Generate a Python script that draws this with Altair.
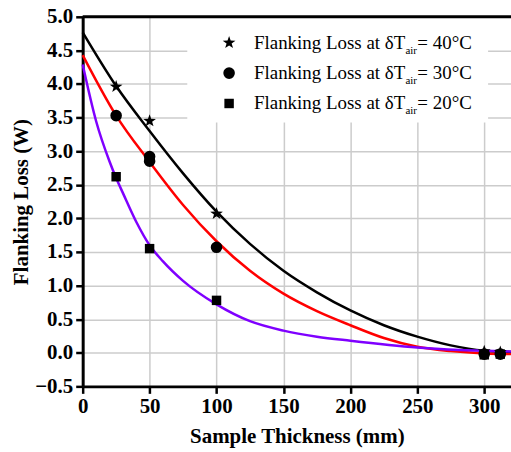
import altair as alt
import pandas as pd

# ---- data ----
series_names = ["40°C", "30°C", "20°C"]
legend_prefix = "Flanking Loss at δT"
legend_sub = "air"

# measured points
pts_40_x = [25, 50, 100, 300, 312]
pts_40_y = [3.96, 3.45, 2.07, 0.02, 0.01]
pts_30_x = [25, 50, 50, 100, 300, 312]
pts_30_y = [3.53, 2.92, 2.85, 1.57, -0.02, -0.02]
pts_20_x = [25, 50, 100, 300, 312]
pts_20_y = [2.62, 1.55, 0.78, -0.03, -0.02]

# fitted curves
fit_40_x = [0, 25, 50, 75, 100, 125, 150, 175, 200, 225, 250, 275, 300, 320]
fit_40_y = [4.77, 3.97, 3.30, 2.67, 2.10, 1.62, 1.22, 0.90, 0.63, 0.41, 0.24, 0.11, 0.03, 0.01]
fit_30_x = [0, 25, 50, 75, 100, 125, 150, 175, 200, 225, 250, 275, 300, 320]
fit_30_y = [4.43, 3.53, 2.84, 2.20, 1.66, 1.22, 0.88, 0.62, 0.41, 0.22, 0.09, 0.025, -0.01, -0.02]
fit_20_x = [0, 10, 20, 25, 30, 40, 50, 60, 75, 100, 125, 150, 175, 200, 250, 300, 320]
fit_20_y = [4.29, 3.45, 2.85, 2.60, 2.38, 1.95, 1.60, 1.36, 1.07, 0.72, 0.47, 0.33, 0.24, 0.18, 0.08, 0.03, 0.02]

x_ticks = [0, 25, 50, 75, 100, 125, 150, 175, 200, 225, 250, 275, 300]
marker_sizes = [180, 90, 90]
y_top = 5.0

pts = pd.DataFrame(
    [(x, y, series_names[0]) for x, y in zip(pts_40_x, pts_40_y)]
    + [(x, y, series_names[1]) for x, y in zip(pts_30_x, pts_30_y)]
    + [(x, y, series_names[2]) for x, y in zip(pts_20_x, pts_20_y)],
    columns=["x", "y", "s"])
fit = pd.DataFrame(
    [(x, y, series_names[0]) for x, y in zip(fit_40_x, fit_40_y)]
    + [(x, y, series_names[1]) for x, y in zip(fit_30_x, fit_30_y)]
    + [(x, y, series_names[2]) for x, y in zip(fit_20_x, fit_20_y)],
    columns=["x", "y", "s"])

STAR = ("M0,-1L0.235,-0.324L0.951,-0.309L0.38,0.124L0.588,0.809L0,0.4"
        "L-0.588,0.809L-0.38,0.124L-0.951,-0.309L-0.235,-0.324Z")

FONT = "'Liberation Serif', 'Times New Roman', serif"
xscale = alt.Scale(domain=[0, 320], nice=False, zero=False)
yscale = alt.Scale(domain=[-0.5, 5.0], nice=False, zero=False)
shape_scale = alt.Scale(domain=series_names, range=[STAR, "circle", "square"])
size_scale = alt.Scale(domain=series_names, range=marker_sizes)

xaxis = alt.Axis(
    values=x_ticks, title="Sample Thickness (mm)",
    labelExpr="datum.value % 50 === 0 ? datum.label : ''",
    tickSize={"condition": {"test": "datum.value % 50 === 0", "value": 7}, "value": 4},
    gridOpacity={"condition": {"test": "datum.value % 50 === 0", "value": 1}, "value": 0},
    labelFont=FONT, labelFontWeight="bold", labelFontSize=21, labelColor="black",
    labelPadding=2, labelOverlap=False,
    titleFont=FONT, titleFontWeight="bold", titleFontSize=21,
    titleColor="black", titleY=50, titleBaseline="middle",
    domainColor="black", domainWidth=3, tickColor="black", tickWidth=2.5,
    gridColor="#cccccc", gridWidth=1.5, labelFlush=False)
yaxis = alt.Axis(
    tickCount=11, tickMinStep=0.5, format=".1f", title="Flanking Loss (W)",
    labelFont=FONT, labelFontWeight="bold", labelFontSize=21, labelColor="black",
    labelPadding=3, labelOverlap=False, labelSeparation=0,
    titleFont=FONT, titleFontWeight="bold", titleFontSize=21,
    titleColor="black", titleX=-61, titleBaseline="middle",
    domainColor="black", domainWidth=3, tickColor="black", tickWidth=2.5, tickSize=7,
    gridColor="#cccccc", gridWidth=1.5, labelFlush=False)

box = alt.Chart(pd.DataFrame({"a": [0]})).mark_rect(color="white").encode(
    x=alt.value(105), x2=alt.value(407), y=alt.value(0), y2=alt.value(106))

lines = alt.Chart(fit).mark_line(interpolate="monotone", strokeWidth=2.5).encode(
    x=alt.X("x:Q", scale=xscale, axis=xaxis),
    y=alt.Y("y:Q", scale=yscale, axis=yaxis),
    color=alt.Color("s:N", sort=series_names,
                    scale=alt.Scale(domain=series_names,
                                    range=["#000000", "#ff0000", "#7f00ff"]),
                    legend=None),
    detail="s:N")

points = alt.Chart(pts).mark_point(filled=True, color="black", opacity=1).encode(
    x=alt.X("x:Q", scale=xscale),
    y=alt.Y("y:Q", scale=yscale),
    shape=alt.Shape("s:N", scale=shape_scale, legend=None),
    size=alt.Size("s:N", scale=size_scale, legend=None))

border = alt.Chart(pd.DataFrame({"a": [0]})).mark_rule(
    color="black", strokeWidth=3).encode(y=alt.datum(y_top, scale=yscale))

# hand-drawn legend (one row per series)
legend_layers = []
for i, name in enumerate(series_names):
    row = pd.DataFrame({"s": [name], "lab": ["= " + name]})
    yy = 26 + 30.5 * i
    legend_layers.append(alt.Chart(row).mark_point(filled=True, color="black", opacity=1).encode(
        x=alt.value(147), y=alt.value(yy),
        shape=alt.Shape("s:N", scale=shape_scale, legend=None),
        size=alt.Size("s:N", scale=size_scale, legend=None)))
    legend_layers.append(alt.Chart(row).mark_text(
        font=FONT, fontSize=19, align="left", baseline="middle", color="black").encode(
        x=alt.value(172), y=alt.value(yy), text=alt.value(legend_prefix)))
    legend_layers.append(alt.Chart(row).mark_text(
        font=FONT, fontSize=11, align="left", baseline="middle", color="black").encode(
        x=alt.value(324), y=alt.value(yy + 8), text=alt.value(legend_sub)))
    legend_layers.append(alt.Chart(row).mark_text(
        font=FONT, fontSize=19, align="left", baseline="middle", color="black").encode(
        x=alt.value(336), y=alt.value(yy), text="lab:N"))

chart = alt.layer(box, lines, points, border, *legend_layers).properties(
    width=430, height=371,
    autosize=alt.AutoSizeParams(type="none"),
    padding={"left": 83, "top": 16, "right": 0, "bottom": 65},
).configure_view(stroke=None).configure(background="white")

chart.save("out.html", embed_options={"renderer": "svg", "actions": False})
